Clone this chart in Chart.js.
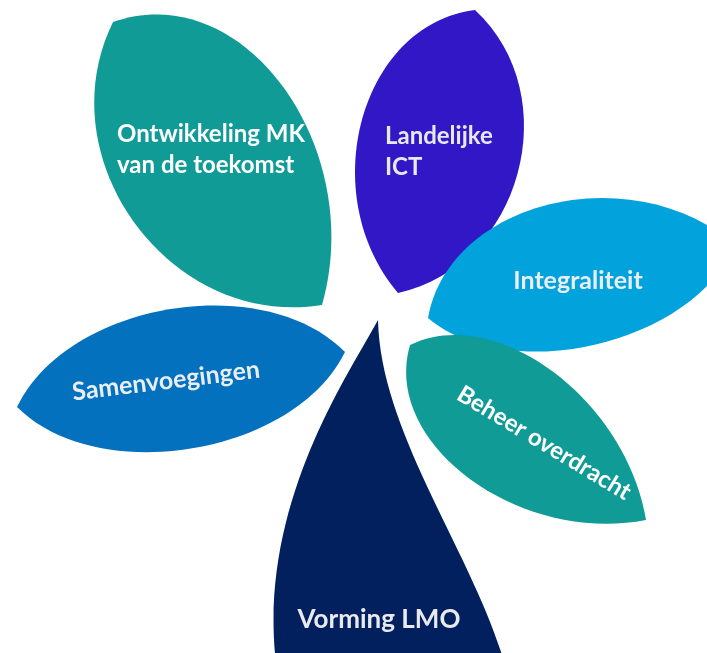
<!DOCTYPE html>
<html>
<head>
<meta charset="utf-8">
<script src="https://cdn.jsdelivr.net/npm/chart.js@4"></script>
<style>
	body { margin: 0; background: #ffffff; }
	#petals { display: block; }
</style>
</head>
<body>
<canvas id="petals" width="707" height="653"></canvas>
<script>
// Petal names (line breaks as in the picture)
const petals = ['Ontwikkeling MK\nvan de toekomst', 'Landelijke\nICT', 'Integraliteit',
				'Beheer overdracht', 'Samenvoegingen', 'Vorming LMO'];

// Both tips of every petal (x right, y down)
const tipStart = [[113, 22], [475, 10], [428, 318], [410, 345], [17, 407], [378, 320]];
const tipEnd   = [[322, 305], [398, 293], [735, 245], [646, 520], [345, 352], [390, 900]];

// Curve of each side: [t1, bulge1, t2, bulge2] along / across the tip-to-tip line
const sideOne = [[0.12, 134, 0.72, 128], [0.2, 112, 0.8, 112], [0.15, 110, 0.75, 110],
				 [0.15, 85, 0.7, 85], [0.2, 95, 0.8, 95], [0.35, 0, 0.75, 290]];
const sideTwo = [[0.2, 136, 0.8, 136], [0.15, 107, 0.75, 107], [0.2, 86, 0.8, 86],
				 [0.12, 96, 0.7, 96], [0.2, 93, 0.8, 93], [0.15, 50, 0.55, 222]];

const colors = ['#109b96', '#3117c6', '#02a2dc', '#109b96', '#0471be', '#02205e'];

// Label placement
const labelAt    = [[117, 134], [385, 136], [578, 281], [544, 443], [166, 381], [379, 620]];
const labelAngle = [0, 0, 0, 31, -7, 0];
const labelAlign = ['left', 'left', 'center', 'center', 'center', 'center'];
const labelSize  = [24, 24, 25, 24, 25, 26];
const labelColor = ['#ffffff', '#e8e8f2', '#e8eef4', '#ffffff', '#e8eef4', '#e8eaf0'];

const petalPlugin = {
	id: 'petals',
	afterDatasetsDraw(chart) {
		const ctx = chart.ctx;
		const xs = chart.scales.x;
		const ys = chart.scales.y;
		const px = p => [xs.getPixelForValue(p[0]), ys.getPixelForValue(p[1])];

		chart.data.datasets.forEach((ds, i) => {
			const a = ds.data[0], b = ds.data[1];
			const dx = b.x - a.x, dy = b.y - a.y;
			const len = Math.hypot(dx, dy);
			const ux = dx / len, uy = dy / len;
			const nx = uy, ny = -ux;

			// control point in data space, then through the scales
			const ctrl = (t, h, s) => px([a.x + ux * len * t + nx * h * s, a.y + uy * len * t + ny * h * s]);

			const s1 = sideOne[i], s2 = sideTwo[i];
			const A = px([a.x, a.y]), B = px([b.x, b.y]);
			const p1 = ctrl(s1[0], s1[1], 1), p2 = ctrl(s1[2], s1[3], 1);
			const q2 = ctrl(s2[2], s2[3], -1), q1 = ctrl(s2[0], s2[1], -1);

			ctx.save();
			ctx.beginPath();
			ctx.moveTo(A[0], A[1]);
			ctx.bezierCurveTo(p1[0], p1[1], p2[0], p2[1], B[0], B[1]);
			ctx.bezierCurveTo(q2[0], q2[1], q1[0], q1[1], A[0], A[1]);
			ctx.closePath();
			ctx.fillStyle = ds.backgroundColor;
			ctx.fill();
			ctx.restore();

			// label
			const c = px(labelAt[i]);
			ctx.save();
			ctx.translate(c[0], c[1]);
			ctx.rotate(labelAngle[i] * Math.PI / 180);
			ctx.font = 'bold ' + labelSize[i] + 'px Lato';
			ctx.fillStyle = labelColor[i];
			ctx.textAlign = labelAlign[i];
			ctx.textBaseline = 'middle';
			const lines = petals[i].split('\n');
			lines.forEach((ln, k) => {
				ctx.fillText(ln, 0, k * 31);
			});
			ctx.restore();
		});
	}
};

new Chart(document.getElementById('petals'), {
	type: 'scatter',
	data: {
		datasets: petals.map((name, i) => ({
			label: name,
			data: [{ x: tipStart[i][0], y: tipStart[i][1] }, { x: tipEnd[i][0], y: tipEnd[i][1] }],
			backgroundColor: colors[i],
			pointRadius: 0,
			pointHoverRadius: 0,
			showLine: false
		}))
	},
	options: {
		responsive: false,
		animation: false,
		layout: { padding: 0 },
		plugins: { legend: { display: false }, tooltip: { enabled: false } },
		scales: {
			x: { type: 'linear', min: 0, max: 707, display: false },
			y: { type: 'linear', min: 0, max: 653, reverse: true, display: false }
		}
	},
	plugins: [petalPlugin]
});
</script>
</body>
</html>
